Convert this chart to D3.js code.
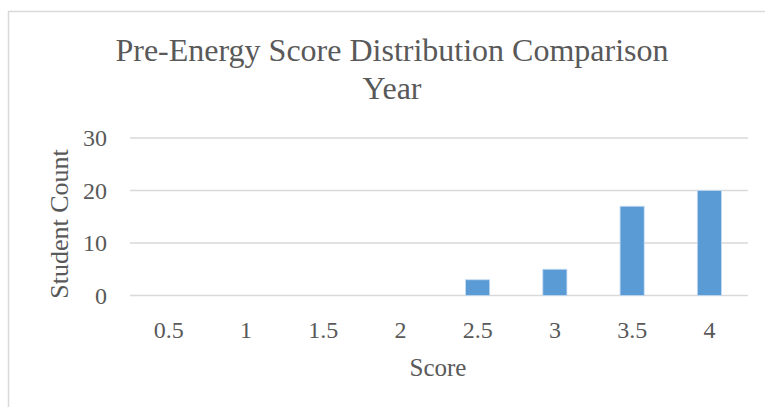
<html>
<head>
    <meta charset="utf-8">
    <title>Pre-Energy Score Distribution</title>
    <script src="https://d3js.org/d3.v7.min.js"></script>
    <style>
        body {
            padding: 0;
            margin: 0;
            background: white;
            font-family: "Liberation Serif", "Times New Roman", serif;
        }

        .grid line {
            stroke: #d9d9d9;
            stroke-width: 1.5;
        }

        .label {
            fill: #595959;
        }
    </style>
</head>
<body>
    <div id="chart"></div>
    <script>
        var scores = ["0.5", "1", "1.5", "2", "2.5", "3", "3.5", "4"],
            counts = [0, 0, 0, 0, 3, 5, 17, 20],
            yTicks = [0, 10, 20, 30];

        var titleLines = ["Pre-Energy Score Distribution Comparison", "Year"];

        var width = 765,
            height = 407,
            margin = { top: 138, right: 17, bottom: 111.5, left: 130 };

        var svg = d3.select("#chart")
            .append("svg")
            .attr("width", width)
            .attr("height", height);

        // chart frame
        svg.append("rect")
            .attr("x", 8.5)
            .attr("y", 11.5)
            .attr("width", width)
            .attr("height", height)
            .attr("fill", "white")
            .attr("stroke", "#d9d9d9")
            .attr("stroke-width", 1.5);

        var x = d3.scaleBand()
            .domain(scores)
            .range([margin.left, width - margin.right])
            .paddingInner(0.688)
            .paddingOuter(0.344);

        var y = d3.scaleLinear()
            .domain([0, 30])
            .range([height - margin.bottom, margin.top]);

        // gridlines
        svg.append("g")
            .attr("class", "grid")
            .selectAll("line")
            .data(yTicks)
            .enter()
            .append("line")
            .attr("x1", margin.left)
            .attr("x2", width - margin.right)
            .attr("y1", function (d) { return y(d); })
            .attr("y2", function (d) { return y(d); });

        // y tick labels
        svg.append("g")
            .selectAll("text")
            .data(yTicks)
            .enter()
            .append("text")
            .attr("class", "label")
            .attr("x", 107)
            .attr("y", function (d) { return y(d); })
            .attr("dy", "0.35em")
            .attr("text-anchor", "end")
            .style("font-size", "24px")
            .text(function (d) { return d; });

        // bars
        svg.append("g")
            .selectAll("rect")
            .data(counts)
            .enter()
            .append("rect")
            .attr("x", function (d, i) { return x(scores[i]); })
            .attr("width", x.bandwidth())
            .attr("y", function (d) { return y(d); })
            .attr("height", function (d) { return y(0) - y(d); })
            .attr("fill", "#5b9bd5")
            .attr("stroke", "#c5daf0")
            .attr("stroke-width", function (d) { return d > 0 ? 0.8 : 0; });

        // x tick labels
        svg.append("g")
            .selectAll("text")
            .data(scores)
            .enter()
            .append("text")
            .attr("class", "label")
            .attr("x", function (d) { return x(d) + x.bandwidth() / 2; })
            .attr("y", 338)
            .attr("text-anchor", "middle")
            .style("font-size", "24px")
            .text(function (d) { return d; });

        // axis titles
        svg.append("text")
            .attr("class", "label")
            .attr("x", 438)
            .attr("y", 376)
            .attr("text-anchor", "middle")
            .style("font-size", "25px")
            .text("Score");

        svg.append("text")
            .attr("class", "label")
            .attr("transform", "translate(68,224) rotate(-90)")
            .attr("text-anchor", "middle")
            .style("font-size", "26px")
            .text("Student Count");

        // title
        svg.append("g")
            .selectAll("text")
            .data(titleLines)
            .enter()
            .append("text")
            .attr("class", "label")
            .attr("x", 392)
            .attr("y", function (d, i) { return 61 + i * 38; })
            .attr("text-anchor", "middle")
            .style("font-size", "32px")
            .text(function (d) { return d; });
    </script>
</body>
</html>
